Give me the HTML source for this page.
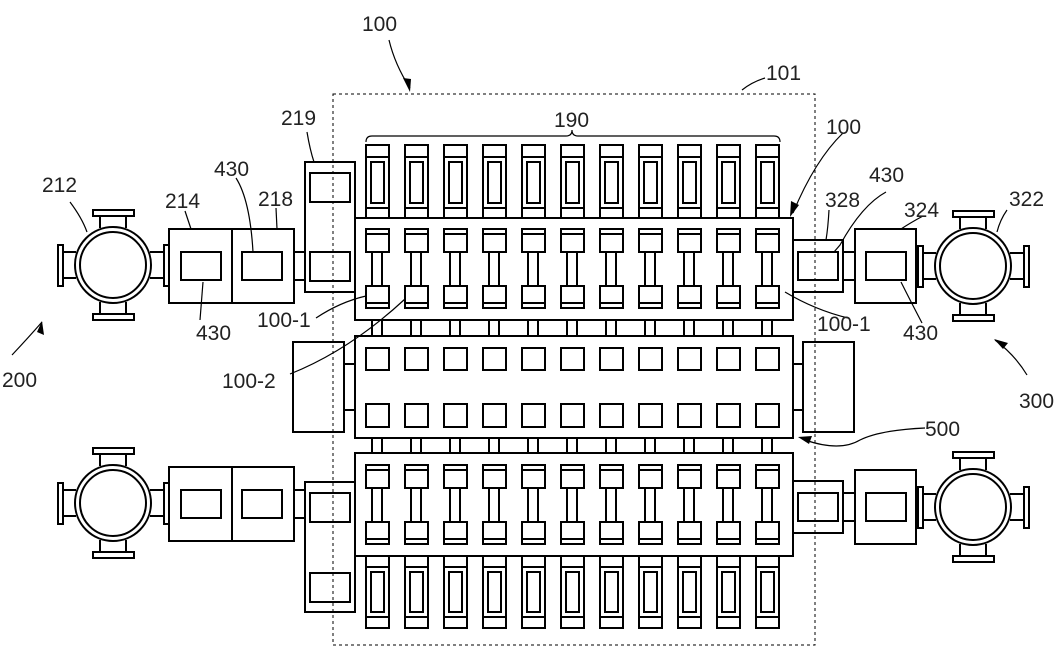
<!DOCTYPE html>
<html><head><meta charset="utf-8"><style>
html,body{margin:0;padding:0;background:#fff}
svg{display:block}
text{font-family:"Liberation Sans",sans-serif;font-size:21px;fill:#222}
</style></head><body>
<svg width="1063" height="660" viewBox="0 0 1063 660" xmlns="http://www.w3.org/2000/svg">
<defs>
<g id="pcTop" fill="none" stroke="#000" stroke-width="2">
 <rect x="0" y="145" width="23" height="73"/>
 <line x1="0" y1="157" x2="23" y2="157"/>
 <line x1="0" y1="208" x2="23" y2="208"/>
 <rect x="5" y="162" width="13" height="41"/>
</g>
<g id="pcBot" fill="none" stroke="#000" stroke-width="2">
 <rect x="0" y="556" width="23" height="72"/>
 <line x1="0" y1="567" x2="23" y2="567"/>
 <line x1="0" y1="617" x2="23" y2="617"/>
 <rect x="5" y="572" width="13" height="40"/>
</g>
<g id="rob" fill="none" stroke="#000" stroke-width="2">
 <rect x="0" y="229" width="23" height="23"/>
 <line x1="0" y1="234" x2="23" y2="234"/>
 <rect x="6" y="252" width="10" height="34"/>
 <rect x="0" y="286" width="23" height="22"/>
 <line x1="0" y1="303" x2="23" y2="303"/>
</g>
<g id="sq" fill="none" stroke="#000" stroke-width="2">
 <rect x="0" y="348" width="23" height="22"/>
 <rect x="0" y="404" width="23" height="23"/>
 <line x1="6" y1="320" x2="6" y2="336"/><line x1="16" y1="320" x2="16" y2="336"/>
 <line x1="6" y1="438" x2="6" y2="453"/><line x1="16" y1="438" x2="16" y2="453"/>
</g>
<g id="col">
 <use href="#pcTop"/><use href="#rob"/><use href="#sq"/>
 <use href="#rob" transform="translate(0,236)"/><use href="#pcBot"/>
</g>
<g id="pm" fill="none" stroke="#000" stroke-width="2">
 <circle cx="0" cy="0" r="38"/><circle cx="0" cy="0" r="33"/>
 <line x1="-13" y1="-37" x2="-13" y2="-49"/><line x1="13" y1="-37" x2="13" y2="-49"/>
 <rect x="-20" y="-55" width="41" height="6"/>
 <line x1="-13" y1="37" x2="-13" y2="49"/><line x1="13" y1="37" x2="13" y2="49"/>
 <rect x="-20" y="49" width="41" height="6"/>
 <line x1="-37" y1="-13" x2="-50" y2="-13"/><line x1="-37" y1="13" x2="-50" y2="13"/>
 <rect x="-55" y="-20" width="5" height="41"/>
 <line x1="37" y1="-13" x2="51" y2="-13"/><line x1="37" y1="13" x2="51" y2="13"/>
 <rect x="51" y="-20" width="5" height="41"/>
</g>
<g id="leftRow" fill="none" stroke="#000" stroke-width="2">
 <use href="#pm" transform="translate(113,265)"/>
 <rect x="169" y="229" width="63" height="74"/>
 <rect x="232" y="229" width="62" height="74"/>
 <rect x="181" y="252" width="40" height="28"/>
 <rect x="242" y="252" width="40" height="28"/>
 <line x1="294" y1="252" x2="305" y2="252"/><line x1="294" y1="280" x2="305" y2="280"/>
</g>
<g id="rightRow" fill="none" stroke="#000" stroke-width="2">
 <rect x="793" y="240" width="50" height="52"/>
 <rect x="798" y="252" width="40" height="28"/>
 <line x1="843" y1="252" x2="855" y2="252"/><line x1="843" y1="280" x2="855" y2="280"/>
 <rect x="855" y="229" width="61" height="74"/>
 <rect x="866" y="252" width="40" height="28"/>
 <use href="#pm" transform="translate(973,266)"/>
</g>
</defs>

<rect x="333" y="94" width="482" height="551" fill="none" stroke="#000" stroke-width="1" stroke-dasharray="3,3"/>

<g fill="none" stroke="#000" stroke-width="2">
 <rect x="355" y="218" width="438" height="102"/>
 <rect x="355" y="336" width="438" height="102"/>
 <rect x="355" y="453" width="438" height="103"/>
 <rect x="305" y="162" width="50" height="130"/>
 <rect x="310" y="173" width="40" height="29"/>
 <rect x="310" y="252" width="40" height="29"/>
 <rect x="305" y="482" width="50" height="130"/>
 <rect x="310" y="493" width="40" height="29"/>
 <rect x="310" y="573" width="40" height="29"/>
 <rect x="293" y="342" width="51" height="90"/>
 <line x1="344" y1="364" x2="355" y2="364"/><line x1="344" y1="410" x2="355" y2="410"/>
 <rect x="803" y="342" width="51" height="90"/>
 <line x1="793" y1="364" x2="803" y2="364"/><line x1="793" y1="410" x2="803" y2="410"/>
</g>

<use href="#col" x="366"/><use href="#col" x="405"/><use href="#col" x="444"/>
<use href="#col" x="483"/><use href="#col" x="522"/><use href="#col" x="561"/>
<use href="#col" x="600"/><use href="#col" x="639"/><use href="#col" x="678"/>
<use href="#col" x="717"/><use href="#col" x="756"/>

<use href="#leftRow"/>
<use href="#leftRow" transform="translate(0,238)"/>
<use href="#rightRow"/>
<use href="#rightRow" transform="translate(0,241)"/>

<g fill="none" stroke="#000" stroke-width="1.2">
 <path d="M389 40 Q395 65 410 88"/>
 <path d="M742 90 Q752 82 765 78"/>
 <path d="M366 142 Q366 136 372 136 L566 136 Q572 136 572 130 Q572 136 578 136 L774 136 Q780 136 780 142"/>
 <path d="M843 133 Q815 160 793 213"/>
 <path d="M307 132 Q310 150 314 162"/>
 <path d="M236 178 Q250 200 253 252"/>
 <path d="M276 208 L277 229"/>
 <path d="M185 211 L191 229"/>
 <path d="M70 202 Q82 218 87 232"/>
 <path d="M200 320 L203 282"/>
 <path d="M316 318 Q340 302 366 296"/>
 <path d="M290 374 Q350 350 405 299"/>
 <path d="M12 355 Q28 338 42 322"/>
 <path d="M829 210 Q828 228 826 240"/>
 <path d="M886 192 Q862 205 840 245 L834 252"/>
 <path d="M923 216 Q910 223 901 229"/>
 <path d="M1007 210 Q1000 220 997 232"/>
 <path d="M848 318 Q815 310 785 292"/>
 <path d="M922 323 Q910 300 901 282"/>
 <path d="M1027 375 Q1015 355 995 340"/>
 <path d="M925 428 Q880 430 860 440 Q840 452 805 440"/>
</g>
<g fill="#000">
 <polygon points="410,92 403,78 411,79"/>
 <polygon points="790,217 791,201 799,205"/>
 <polygon points="42,321 44,335 37,332"/>
 <polygon points="994,339 1008,343 1003,349"/>
 <polygon points="798,437 812,436 809,444"/>
</g>

<text x="362" y="31">100</text>
<text x="766" y="80">101</text>
<text x="554" y="127">190</text>
<text x="826" y="134">100</text>
<text x="281" y="125">219</text>
<text x="214" y="176">430</text>
<text x="258" y="206">218</text>
<text x="165" y="208">214</text>
<text x="42" y="192">212</text>
<text x="196" y="340">430</text>
<text x="257" y="327">100-1</text>
<text x="222" y="388">100-2</text>
<text x="2" y="387">200</text>
<text x="825" y="207">328</text>
<text x="869" y="182">430</text>
<text x="904" y="217">324</text>
<text x="1009" y="206">322</text>
<text x="817" y="331">100-1</text>
<text x="903" y="340">430</text>
<text x="1019" y="408">300</text>
<text x="925" y="436">500</text>
</svg>
</body></html>
